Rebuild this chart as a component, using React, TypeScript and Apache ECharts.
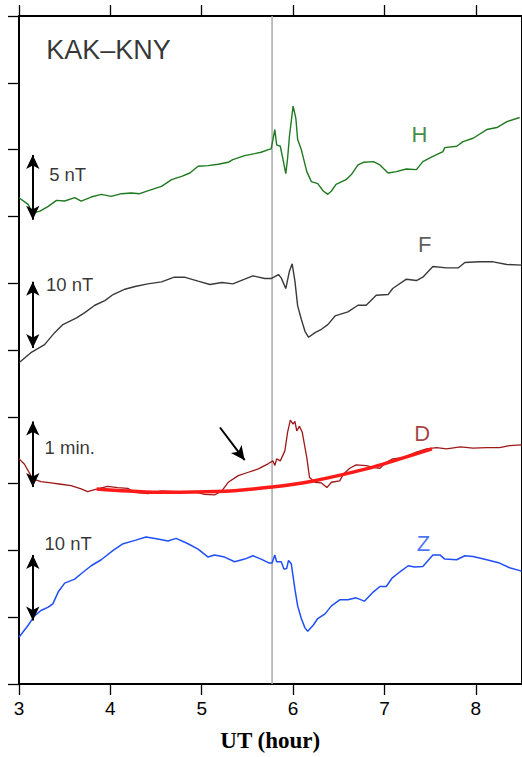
import React, { useEffect, useRef } from "react";
import * as echarts from "echarts";

// UT hours, axis ticks
const X_TICKS = [3, 4, 5, 6, 7, 8];
const EVENT_HOUR = 5.77;

// H component (offset units, 1 unit = 5 nT)
const H_HOURS = [3.0,3.1,3.15,3.23,3.32,3.41,3.5,3.61,3.68,3.79,3.9,4.01,4.12,4.23,4.32,4.45,4.56,4.67,4.78,4.87,4.96,5.07,5.18,5.29,5.34,5.47,5.58,5.65,5.73,5.76,5.8,5.82,5.86,5.89,5.92,5.94,5.96,6.0,6.03,6.05,6.09,6.15,6.2,6.27,6.33,6.38,6.42,6.47,6.58,6.64,6.71,6.77,6.88,6.95,7.04,7.13,7.24,7.35,7.42,7.53,7.64,7.66,7.79,7.86,7.97,8.12,8.23,8.34,8.48];
const H_VALUES = [7.28,7.18,7.05,7.08,7.15,7.24,7.23,7.28,7.23,7.29,7.33,7.3,7.34,7.35,7.34,7.4,7.45,7.55,7.6,7.65,7.75,7.76,7.78,7.81,7.85,7.91,7.94,7.96,8.0,8.01,8.3,8.07,8.05,7.85,7.64,7.87,8.2,8.65,8.47,8.15,8.0,7.67,7.52,7.49,7.38,7.33,7.38,7.48,7.55,7.63,7.77,7.81,7.82,7.77,7.65,7.67,7.71,7.7,7.82,7.9,7.97,8.03,8.05,8.12,8.17,8.3,8.33,8.42,8.48];

// F component (1 unit = 10 nT)
const F_HOURS = [3.0,3.13,3.28,3.39,3.48,3.63,3.72,3.83,3.94,4.03,4.16,4.27,4.41,4.56,4.7,4.81,4.96,5.09,5.22,5.34,5.47,5.56,5.69,5.76,5.84,5.87,5.92,5.96,5.99,6.02,6.05,6.09,6.13,6.17,6.24,6.31,6.38,6.46,6.6,6.71,6.8,6.91,7.04,7.09,7.24,7.35,7.42,7.53,7.68,7.81,7.88,8.04,8.19,8.34,8.5];
const F_VALUES = [4.81,4.96,5.08,5.26,5.38,5.48,5.56,5.67,5.74,5.83,5.91,5.95,5.99,6.02,6.09,6.09,6.03,5.98,6.01,5.99,6.06,6.11,6.07,6.07,6.13,6.08,5.92,6.18,6.29,6.03,5.66,5.46,5.28,5.19,5.26,5.31,5.38,5.51,5.57,5.67,5.67,5.82,5.83,5.92,6.06,6.04,6.09,6.25,6.23,6.23,6.31,6.32,6.32,6.28,6.27];

// D component (1 unit = 1 min.)
const D_HOURS = [3.0,3.06,3.15,3.24,3.35,3.46,3.57,3.68,3.75,3.86,3.97,4.08,4.19,4.27,4.41,4.56,4.7,4.92,5.03,5.14,5.22,5.29,5.4,5.51,5.62,5.73,5.78,5.8,5.82,5.86,5.91,5.94,5.97,6.0,6.02,6.04,6.07,6.1,6.15,6.18,6.24,6.31,6.37,6.42,6.51,6.55,6.62,6.69,6.8,6.89,6.95,7.02,7.09,7.2,7.35,7.46,7.57,7.68,7.83,7.97,8.12,8.26,8.37,8.5];
const D_VALUES = [3.37,3.29,3.07,3.03,3.01,2.99,2.97,2.92,2.88,2.92,2.96,2.94,2.93,2.87,2.85,2.89,2.88,2.88,2.84,2.83,2.89,3.02,3.12,3.17,3.22,3.3,3.34,3.27,3.37,3.34,3.49,3.77,3.95,3.89,3.93,3.79,3.86,3.77,3.39,3.09,3.02,3.01,2.94,3.02,3.04,3.14,3.23,3.28,3.27,3.24,3.23,3.32,3.37,3.39,3.47,3.52,3.54,3.52,3.55,3.53,3.54,3.54,3.57,3.58];

// D baseline fit
const FIT_HOURS = [3.85,4.2,4.61,5.16,5.77,6.22,6.8,7.17,7.52];
const FIT_VALUES = [2.92,2.89,2.87,2.88,2.95,3.04,3.22,3.37,3.52];

// Z component (1 unit = 10 nT)
const Z_HOURS = [3.0,3.1,3.17,3.24,3.32,3.37,3.43,3.5,3.61,3.68,3.79,3.9,4.03,4.14,4.27,4.39,4.52,4.63,4.72,4.85,4.96,5.07,5.14,5.25,5.36,5.47,5.56,5.65,5.74,5.77,5.8,5.82,5.87,5.9,5.93,5.95,5.98,6.02,6.05,6.09,6.13,6.16,6.22,6.27,6.35,6.42,6.51,6.6,6.69,6.78,6.88,6.95,7.02,7.08,7.17,7.26,7.33,7.42,7.53,7.61,7.66,7.79,7.88,7.97,8.12,8.26,8.37,8.5];
const Z_VALUES = [0.7,0.88,1.02,1.1,1.15,1.2,1.38,1.51,1.57,1.65,1.77,1.86,2.0,2.1,2.15,2.2,2.17,2.14,2.18,2.1,2.02,1.9,1.93,1.9,1.83,1.87,1.92,1.87,1.81,1.81,1.93,1.83,1.83,1.72,1.73,1.85,1.8,1.42,1.17,0.98,0.84,0.79,0.88,0.98,1.05,1.17,1.26,1.26,1.29,1.24,1.38,1.46,1.46,1.58,1.68,1.77,1.75,1.76,1.93,1.93,1.87,1.86,1.92,1.91,1.86,1.81,1.74,1.69];

// scale bars: hour, low, high
const BAR_HOUR = 3.151;
const BAR_LOWS = [6.95, 5.03, 2.95, 0.95];
const BAR_HIGHS = [7.92, 6.02, 3.93, 1.93];
const BAR_LABELS = ["5 nT", "10 nT", "1 min.", "10 nT"];
const BAR_LABEL_HOURS = [3.33, 3.295, 3.28, 3.28];
const BAR_LABEL_VALUES = [7.62, 5.98, 3.54, 2.11];

// component letters
const COMP_NAMES = ["H", "F", "D", "Z"];
const COMP_HOURS = [7.383, 7.441, 7.414, 7.427];
const COMP_VALUES = [8.23, 6.58, 3.755, 2.107];
const COMP_COLORS = ["#136b13", "#333333", "#8e1010", "#1a4ff0"];

// pointer arrow on D
const POINTER_FROM = [5.2, 3.84];
const POINTER_TO = [5.47, 3.35];

const TITLE = "KAK\u2013KNY";
const TITLE_HOUR = 3.298;
const TITLE_VALUE = 9.49;

const zip = (a: number[], b: number[]) =>
  a.slice(0, Math.min(a.length, b.length)).map((x, i) => [x, b[i]]);

export default function App() {
  const ref = useRef<HTMLDivElement>(null);
  useEffect(() => {
    if (!ref.current) return;
    const chart = echarts.init(ref.current, undefined, { renderer: "svg" });
    const sans = "Liberation Sans, Arial, Helvetica, sans-serif";
    const trace = (name: string, data: number[][], color: string, width: number, extra: any = {}) => ({
      type: "line",
      name,
      data,
      symbol: "none",
      showSymbol: false,
      lineStyle: { color, width },
      itemStyle: { color },
      silent: true,
      emphasis: { disabled: true },
      ...extra,
    });

    const arrowLines: any[] = BAR_LOWS.map((lo, i) => [
      { coord: [BAR_HOUR, lo] },
      { coord: [BAR_HOUR, BAR_HIGHS[i]] },
    ]);
    arrowLines.push([
      { coord: POINTER_FROM, symbol: "none" },
      { coord: POINTER_TO },
    ]);

    const textPoints = [
      ...BAR_LABELS.map((t, i) => ({
        value: [BAR_LABEL_HOURS[i], BAR_LABEL_VALUES[i]],
        label: { formatter: t, position: "right", distance: 0, fontSize: 18.5, color: "#000" },
      })),
      {
        value: [TITLE_HOUR, TITLE_VALUE],
        label: { formatter: TITLE, position: "right", distance: 0, fontSize: 27, color: "#000" },
      },
      ...COMP_NAMES.map((t, i) => ({
        value: [COMP_HOURS[i], COMP_VALUES[i]],
        label: { formatter: t, position: "inside", fontSize: 22, color: COMP_COLORS[i] },
      })),
    ];

    const axisLine = { show: true, onZero: false, lineStyle: { color: "#000", width: 2 } };
    const tick = { color: "#000", width: 1.3 };

    const option: any = {
      animation: false,
      backgroundColor: "#ffffff",
      grid: { left: 19, right: 0.5, top: 16, bottom: 72, containLabel: false },
      xAxis: [
        {
          type: "value",
          min: 3,
          max: 8.5,
          interval: 1,
          position: "bottom",
          splitLine: { show: false },
          axisLine,
          axisTick: { show: true, inside: false, length: 11, customValues: X_TICKS, lineStyle: tick },
          axisLabel: { show: true, customValues: X_TICKS, margin: 15, fontSize: 19, color: "#000", fontFamily: sans },
          name: "UT (hour)",
          nameLocation: "middle",
          nameGap: 45,
          nameTextStyle: { fontFamily: "Liberation Serif, Times New Roman, serif", fontWeight: "bold", fontSize: 23, color: "#000" },
        },
        {
          type: "value",
          min: 3,
          max: 8.5,
          interval: 1,
          position: "top",
          splitLine: { show: false },
          axisLine,
          axisTick: { show: true, inside: false, length: 11, customValues: X_TICKS, lineStyle: tick },
          axisLabel: { show: false },
        },
      ],
      yAxis: [
        {
          type: "value",
          min: 0,
          max: 10,
          interval: 1,
          position: "left",
          splitLine: { show: false },
          axisLine,
          axisTick: { show: true, inside: false, length: 11, lineStyle: tick },
          axisLabel: { show: false },
        },
        {
          type: "value",
          min: 0,
          max: 10,
          interval: 1,
          position: "right",
          splitLine: { show: false },
          axisLine,
          axisTick: { show: false },
          axisLabel: { show: false },
        },
      ],
      series: [
        trace("event", [[EVENT_HOUR, 0], [EVENT_HOUR, 10]], "#aaaaaa", 1.5, {
          z: 1,
          markLine: {
            silent: true,
            animation: false,
            symbol: ["arrow", "arrow"],
            symbolSize: [10, 14],
            label: { show: false },
            emphasis: { disabled: true },
            lineStyle: { color: "#000", width: 2, type: "solid" },
            data: arrowLines,
          },
        }),
        trace("H", zip(H_HOURS, H_VALUES), "#1f7a1f", 1.4),
        trace("F", zip(F_HOURS, F_VALUES), "#3a3a3a", 1.4),
        trace("D", zip(D_HOURS, D_VALUES), "#9e1818", 1.3),
        trace("Dfit", zip(FIT_HOURS, FIT_VALUES), "#ff1a1a", 3.5, { smooth: 0.4 }),
        trace("Z", zip(Z_HOURS, Z_VALUES), "#1f4ff5", 1.5),
        {
          type: "scatter",
          symbolSize: 0,
          silent: true,
          data: textPoints,
          label: { show: true, fontFamily: sans, verticalAlign: "middle" },
          emphasis: { disabled: true },
          z: 5,
        },
      ],
    };
    chart.setOption(option);
    return () => chart.dispose();
  }, []);
  return (
    <div
      ref={ref}
      style={{ position: "fixed", left: 0, top: 0, width: 522, height: 757, background: "#fff" }}
    />
  );
}
